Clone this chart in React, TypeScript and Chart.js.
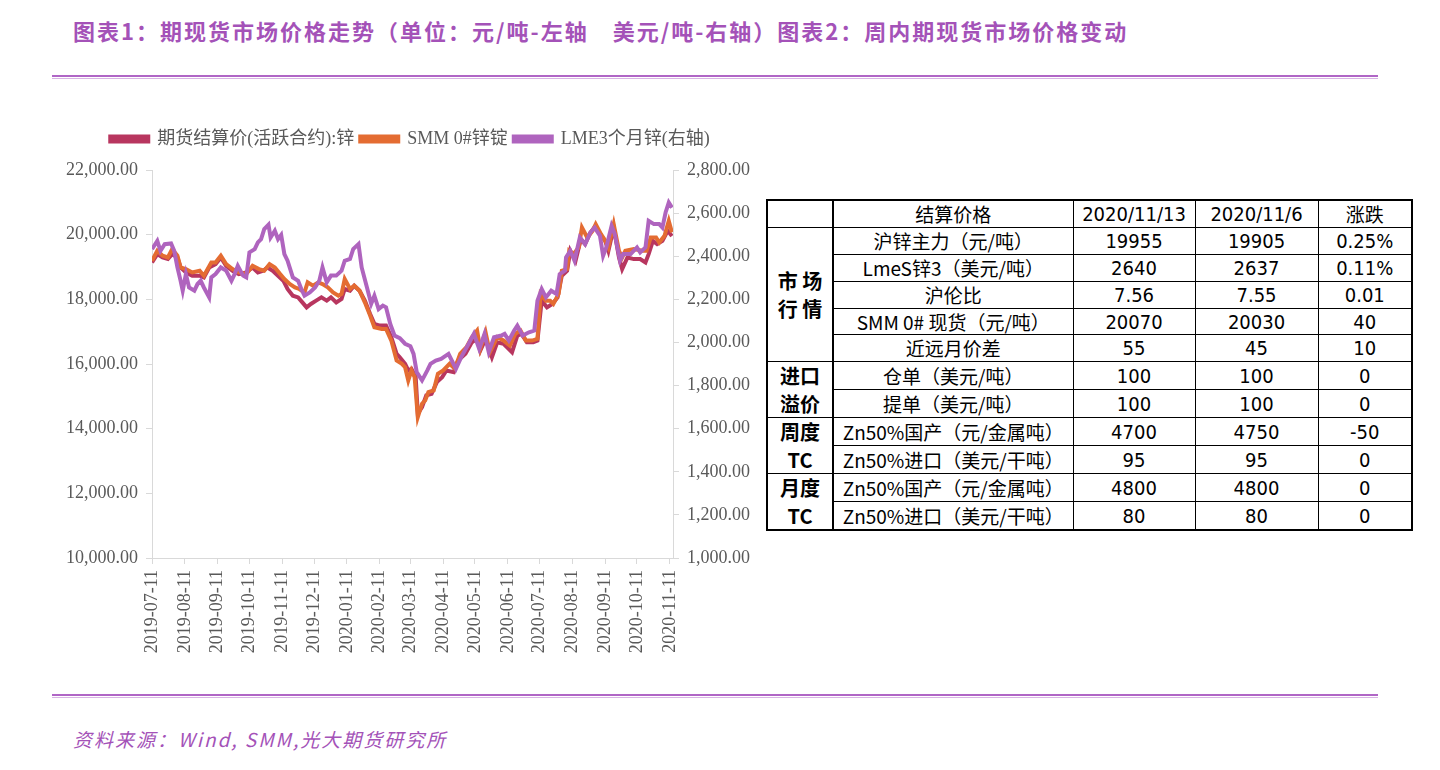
import React, { useEffect, useRef } from "react";
import { Chart, registerables } from "chart.js";

Chart.register(...registerables);

// ---------- data ----------
const startDate = "2019-07-11";
const tickLabels = [
  "2019-07-11", "2019-08-11", "2019-09-11", "2019-10-11", "2019-11-11", "2019-12-11",
  "2020-01-11", "2020-02-11", "2020-03-11", "2020-04-11", "2020-05-11", "2020-06-11",
  "2020-07-11", "2020-08-11", "2020-09-11", "2020-10-11", "2020-11-11",
];

// days since 2019-07-11
const futDays = [0,5,10,15,19,24,27,32,38,45,49,54,60,65,70,76,82,89,95,100,105,109,114,119,124,128,133,138,142,146,150,155,160,165,169,174,179,182,187,191,196,201,206,210,215,221,226,231,234,239,242,245,249,251,255,259,264,269,274,278,285,289,296,302,307,310,315,321,326,332,340,345,349,354,360,364,368,373,378,383,387,392,395,400,405,409,414,419,424,428,431,436,441,444,449,455,461,466,469,473,477,482,487,491];
const futValues = [19140,19399,19295,19245,19399,19295,18986,18832,18730,18730,18678,18986,19090,19295,19038,18884,18782,18832,18986,18832,18884,18986,18884,18730,18576,18320,18113,18060,17906,17752,17857,17959,18060,17959,18060,17906,18011,18320,18267,18421,18267,17959,17548,17240,17187,17187,16827,16315,16209,16006,15800,15850,15594,14462,14668,15028,15080,15440,15594,15800,15748,16108,16314,16672,16777,16416,16777,16209,16672,16622,16364,16879,16931,16672,16672,16725,17959,17752,17857,18060,18730,18884,19501,19193,19862,19708,20066,20273,19964,19810,19501,20220,19295,18935,19295,19245,19245,19140,19399,19810,19707,19810,20118,19955];

const smmDays = [0,5,10,15,19,24,27,32,38,45,49,56,60,65,70,76,82,89,95,101,106,111,116,121,125,130,135,139,144,147,152,157,161,166,171,176,179,182,187,191,196,201,206,210,217,221,226,231,236,239,242,245,248,251,255,258,261,266,270,275,281,286,291,297,302,307,310,315,319,326,332,338,343,348,353,359,364,367,372,376,379,384,387,392,394,398,403,406,411,416,419,424,428,431,436,441,444,447,455,463,467,471,476,479,484,488,491];
const smmValues = [19190,19501,19347,19295,19553,19347,18986,18935,18832,18884,18730,19140,19140,19347,19090,18935,18832,18782,19038,18935,18884,19090,18986,18782,18628,18474,18370,18320,18215,18524,18421,18524,18474,18370,18215,18113,18165,18628,18320,18421,18267,17906,17496,17135,17085,17085,16725,16108,16006,15900,15491,15800,15594,14359,14772,14874,15130,15182,15697,15800,16006,15852,16314,16518,16826,17033,16468,16981,16364,16827,16725,16570,16931,17033,16725,16725,16777,18165,17959,17959,17857,18165,18884,18935,19501,19399,19603,20220,19912,20118,20325,20016,19810,19603,20325,19501,19295,19501,19553,19501,19501,19912,19912,19757,19964,20427,20070];

const lmeDays = [0,5,8,12,18,21,24,27,29,32,35,40,43,46,49,54,56,60,65,70,75,78,81,86,89,92,97,100,103,106,110,112,116,119,122,125,128,133,138,141,144,149,154,158,161,165,169,174,179,182,187,190,195,198,203,207,210,214,218,221,225,229,234,239,244,247,250,255,260,263,268,273,280,287,292,299,304,309,314,318,323,330,333,337,342,345,350,356,361,364,368,372,377,382,385,390,391,395,399,404,409,414,418,423,426,429,434,437,442,445,452,458,461,466,469,474,479,482,485,488,491];
const lmeValues = [2433,2471,2425,2456,2459,2425,2348,2286,2240,2317,2255,2240,2271,2286,2255,2209,2302,2317,2348,2333,2286,2317,2356,2310,2302,2418,2433,2464,2479,2526,2546,2487,2518,2479,2499,2410,2379,2302,2286,2248,2217,2232,2255,2286,2348,2279,2310,2310,2333,2379,2387,2433,2456,2348,2255,2179,2217,2155,2171,2163,2086,2032,2020,1994,1982,1947,1862,1824,1870,1901,1916,1924,1947,1878,1932,1994,2040,1970,2040,1955,2024,2032,2040,2009,2055,2078,2032,2047,2055,2194,2248,2209,2240,2225,2317,2333,2394,2425,2379,2487,2456,2510,2533,2495,2402,2441,2541,2503,2379,2410,2410,2441,2418,2441,2564,2549,2549,2533,2603,2649,2625];

const seriesNames = ["期货结算价(活跃合约):锌", "SMM 0#锌锭", "LME3个月锌(右轴)"];

const tableHeader = ["", "结算价格", "2020/11/13", "2020/11/6", "涨跌"];
const tableGroups = [
  { name: ["市 场", "行 情"], rows: 5 },
  { name: ["进口", "溢价"], rows: 2 },
  { name: ["周度", "TC"], rows: 2 },
  { name: ["月度", "TC"], rows: 2 },
];
const tableItems = [
  "沪锌主力（元/吨）", "LmeS锌3（美元/吨）", "沪伦比", "SMM 0# 现货（元/吨）", "近远月价差",
  "仓单（美元/吨）", "提单（美元/吨）",
  "Zn50%国产（元/金属吨）", "Zn50%进口（美元/干吨）",
  "Zn50%国产（元/金属吨）", "Zn50%进口（美元/干吨）",
];
const tableThisWeek = ["19955", "2640", "7.56", "20070", "55", "100", "100", "4700", "95", "4800", "80"];
const tableLastWeek = ["19905", "2637", "7.55", "20030", "45", "100", "100", "4750", "95", "4800", "80"];
const tableChange = ["0.25%", "0.11%", "0.01", "40", "10", "0", "0", "-50", "0", "0", "0"];

// ---------- styles ----------
const RED = "#B8365F";
const ORANGE = "#E46C32";
const PURPLE = "#AF64BE";
const TICK_COLOR = "#595959";
const AXIS_COLOR = "#D9D9D9";
const SERIF = "'Liberation Serif', 'Noto Sans CJK SC', serif";
const THEME = "#A452B8";

const dayOf = (s: string) =>
  Math.round((Date.parse(s + "T00:00:00Z") - Date.parse(startDate + "T00:00:00Z")) / 86400000);
const tickDays = tickLabels.map(dayOf);
const toPoints = (days: number[], vals: number[]) => days.map((d, i) => ({ x: d, y: vals[i] }));
const fmt = (v: number) =>
  Number(v).toLocaleString("en-US", { minimumFractionDigits: 2, maximumFractionDigits: 2 });

const legendSpacer = {
  id: "legendSpacer",
  beforeInit(chart: any) {
    const legend = chart.legend;
    if (!legend) return;
    const origFit = legend.fit;
    legend.fit = function () {
      origFit.call(this);
      this.height += 12;
    };
  },
};

function PriceChart() {
  const ref = useRef<HTMLCanvasElement | null>(null);
  useEffect(() => {
    if (!ref.current) return;
    const tickFont = { family: SERIF, size: 18 };
    const line = (label: string, data: any, color: string, axis: string, order: number) => ({
      label,
      data,
      borderColor: color,
      backgroundColor: color,
      borderWidth: 4,
      pointRadius: 0,
      yAxisID: axis,
      order,
    });
    const chart = new Chart(ref.current, {
      type: "line",
      data: {
        datasets: [
          line(seriesNames[0], toPoints(futDays, futValues), RED, "y", 2),
          line(seriesNames[1], toPoints(smmDays, smmValues), ORANGE, "y", 1),
          line(seriesNames[2], toPoints(lmeDays, lmeValues), PURPLE, "y1", 0),
        ],
      },
      options: {
        animation: false,
        responsive: false,
        layout: { padding: { top: 14, left: 0, right: 0, bottom: 0 } },
        plugins: {
          tooltip: { enabled: false },
          legend: {
            position: "top",
            labels: {
              boxWidth: 38,
              boxHeight: 5,
              padding: 6,
              color: TICK_COLOR,
              font: { family: SERIF, size: 18 },
              sort: (a: any, b: any) => a.datasetIndex - b.datasetIndex,
            },
          },
        },
        scales: {
          x: {
            type: "linear",
            min: 0,
            max: 492,
            afterBuildTicks: (s: any) => {
              s.ticks = tickDays.map((v) => ({ value: v }));
            },
            afterFit: (s: any) => {
              s.height = 112;
            },
            ticks: {
              autoSkip: false,
              minRotation: 90,
              maxRotation: 90,
              padding: 6,
              color: TICK_COLOR,
              font: tickFont,
              callback: (_v: any, i: number) => tickLabels[i],
            },
            grid: { drawOnChartArea: false, drawTicks: true, tickLength: 6, color: AXIS_COLOR },
            border: { display: true, color: AXIS_COLOR },
          },
          y: {
            position: "left",
            min: 10000,
            max: 22000,
            afterFit: (s: any) => {
              s.width = 92;
            },
            ticks: {
              stepSize: 2000,
              padding: 8,
              color: TICK_COLOR,
              font: tickFont,
              callback: (v: any) => fmt(v),
            },
            grid: { drawOnChartArea: false, drawTicks: true, tickLength: 6, color: AXIS_COLOR },
            border: { display: true, color: AXIS_COLOR },
          },
          y1: {
            position: "right",
            min: 1000,
            max: 2800,
            afterFit: (s: any) => {
              s.width = 87;
            },
            ticks: {
              stepSize: 200,
              padding: 8,
              color: TICK_COLOR,
              font: tickFont,
              callback: (v: any) => fmt(v),
            },
            grid: { drawOnChartArea: false, drawTicks: true, tickLength: 6, color: AXIS_COLOR },
            border: { display: true, color: AXIS_COLOR },
          },
        },
      },
      plugins: [legendSpacer],
    } as any);
    return () => chart.destroy();
  }, []);
  return (
    <canvas
      ref={ref}
      width={700}
      height={560}
      style={{ position: "absolute", left: 60, top: 110, width: 700, height: 560 }}
    />
  );
}

function PriceTable() {
  const border = "1px solid #000";
  const numFont = "'Liberation Sans Narrow', 'DejaVu Sans Condensed', 'Liberation Sans', 'Noto Sans CJK SC', sans-serif";
  const cell: React.CSSProperties = {
    border,
    padding: 0,
    textAlign: "center",
    verticalAlign: "middle",
    height: 25.9,
    whiteSpace: "nowrap",
    overflow: "hidden",
    fontFamily: numFont,
    fontStretch: "condensed",
    fontSize: 20,
    lineHeight: "24px",
    color: "#000",
  };
  const itemCell: React.CSSProperties = { ...cell, fontFamily: "'Noto Sans CJK SC', sans-serif", fontSize: 19 };
  const groupCell: React.CSSProperties = {
    ...cell,
    fontFamily: "'Noto Sans CJK SC', sans-serif",
    fontWeight: 700,
    fontSize: 20,
    borderRight: "2px solid #000",
    lineHeight: "27.5px",
  };
  const rows: React.ReactNode[] = [];
  let idx = 0;
  tableGroups.forEach((g) => {
    for (let r = 0; r < g.rows; r++) {
      const i = idx;
      rows.push(
        <tr key={i}>
          {r === 0 && (
            <td rowSpan={g.rows} style={groupCell}>
              {g.name[0]}
              <br />
              {g.name[1]}
            </td>
          )}
          <td style={itemCell}>{tableItems[i]}</td>
          <td style={cell}>{tableThisWeek[i]}</td>
          <td style={cell}>{tableLastWeek[i]}</td>
          <td style={cell}>{tableChange[i]}</td>
        </tr>
      );
      idx++;
    }
  });
  return (
    <table
      style={{
        position: "absolute",
        left: 766,
        top: 199,
        width: 645,
        borderCollapse: "collapse",
        tableLayout: "fixed",
        border: "2px solid #000",
      }}
    >
      <colgroup>
        <col style={{ width: 66 }} />
        <col style={{ width: 240 }} />
        <col style={{ width: 122 }} />
        <col style={{ width: 123 }} />
        <col style={{ width: 94 }} />
      </colgroup>
      <tbody>
        <tr>
          <td style={{ ...groupCell }}></td>
          <td style={itemCell}>{tableHeader[1]}</td>
          <td style={cell}>{tableHeader[2]}</td>
          <td style={cell}>{tableHeader[3]}</td>
          <td style={itemCell}>{tableHeader[4]}</td>
        </tr>
        {rows}
      </tbody>
    </table>
  );
}

export default function App() {
  const rule: React.CSSProperties = {
    position: "absolute",
    left: 52,
    width: 1326,
    height: 1,
    borderTop: "2px solid #B066C6",
    borderBottom: "1px solid #D8B4E4",
  };
  return (
    <div style={{ position: "absolute", left: 0, top: 0, width: 1440, height: 770, background: "#fff", overflow: "hidden" }}>
      <div
        style={{
          position: "absolute",
          left: 73,
          top: 14,
          fontFamily: "'Noto Sans CJK SC', sans-serif",
          fontWeight: 700,
          fontSize: 22,
          letterSpacing: 2,
          color: THEME,
          whiteSpace: "nowrap",
          lineHeight: "32px",
        }}
      >
        图表1：期现货市场价格走势（单位：元/吨-左轴　美元/吨-右轴）图表2：周内期现货市场价格变动
      </div>
      <div style={{ ...rule, top: 75 }} />
      <PriceChart />
      <PriceTable />
      <div style={{ ...rule, top: 694 }} />
      <div
        style={{
          position: "absolute",
          left: 73,
          top: 725,
          fontFamily: "'Noto Sans CJK SC', sans-serif",
          fontStyle: "italic",
          fontSize: 19,
          letterSpacing: 2,
          color: THEME,
          whiteSpace: "nowrap",
          lineHeight: "28px",
        }}
      >
        资料来源：Wind, SMM,光大期货研究所
      </div>
    </div>
  );
}
